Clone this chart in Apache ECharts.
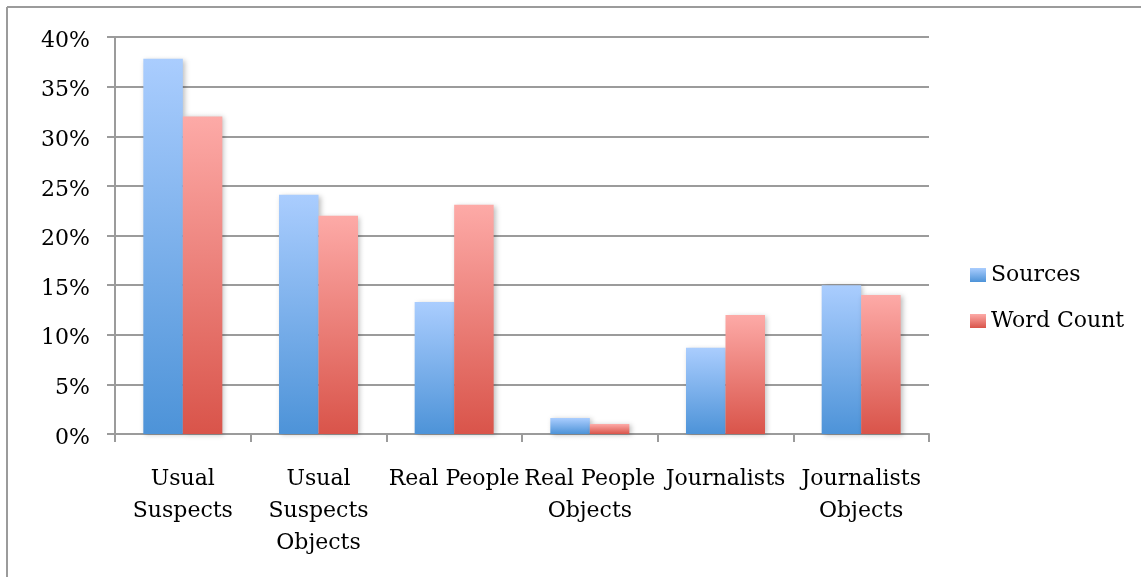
<!DOCTYPE html>
<html>
<head>
<meta charset="utf-8">
<script src="https://cdn.jsdelivr.net/npm/echarts@6/dist/echarts.min.js"></script>
<style>
  html, body { margin: 0; padding: 0; background: #ffffff; }
  #chart { width: 1141px; height: 577px; }
</style>
</head>
<body>
<div id="chart"></div>
<script>
// Share of sources and of word count by group (percent)
const categories = [
  'Usual\nSuspects',
  'Usual\nSuspects\nObjects',
  'Real People',
  'Real People\nObjects',
  'Journalists',
  'Journalists\nObjects'
];
const sources = [37.8, 24.1, 13.3, 1.6, 8.7, 15.0];
const wordCount = [32.0, 22.0, 23.1, 1.0, 12.0, 14.0];
const seriesNames = ['Sources', 'Word Count'];

const FONT = 'DejaVu Serif';
const LINE = '#9b9b9b';

function vGrad(top, bottom) {
  return new echarts.graphic.LinearGradient(0, 0, 0, 1, [
    { offset: 0, color: top },
    { offset: 1, color: bottom }
  ]);
}

const chart = echarts.init(document.getElementById('chart'), null, { renderer: 'canvas' });

chart.setOption({
  animation: false,
  backgroundColor: '#ffffff',
  textStyle: { fontFamily: FONT, color: '#000' },
  grid: { left: 115, right: 212, top: 37, bottom: 143, containLabel: false },
  legend: {
    orient: 'vertical',
    left: 965,
    top: 259,
    itemWidth: 16,
    itemHeight: 14,
    itemGap: 24,
    icon: 'rect',
    textStyle: { fontFamily: FONT, fontSize: 22, color: '#000' },
    data: seriesNames
  },
  xAxis: {
    type: 'category',
    data: categories,
    boundaryGap: true,
    axisLine: { show: true, lineStyle: { color: LINE, width: 2 } },
    axisTick: { show: true, length: 8, alignWithLabel: false, lineStyle: { color: LINE, width: 2 } },
    axisLabel: {
      interval: 0,
      margin: 29,
      fontFamily: FONT,
      fontSize: 22,
      lineHeight: 32,
      color: '#000',
      align: 'center'
    }
  },
  yAxis: {
    type: 'value',
    min: 0,
    max: 40,
    interval: 5,
    axisLine: { show: true, lineStyle: { color: LINE, width: 2 } },
    axisTick: { show: true, length: 8, lineStyle: { color: LINE, width: 2 } },
    splitLine: { show: true, lineStyle: { color: LINE, width: 2 } },
    axisLabel: {
      margin: 25,
      fontFamily: FONT,
      fontSize: 22,
      color: '#000',
      formatter: '{t|{value}%}',
      rich: {
        t: { fontFamily: FONT, fontSize: 22, color: '#000', padding: [8, 0, 0, 0] }
      }
    }
  },
  series: [
    {
      name: seriesNames[0],
      type: 'bar',
      data: sources,
      barWidth: 39.5,
      barGap: '0%',
      itemStyle: {
        color: vGrad('#aacdfe', '#4d93d8'),
        shadowBlur: 5,
        shadowColor: 'rgba(0,0,0,0.25)',
        shadowOffsetX: 2,
        shadowOffsetY: 1
      }
    },
    {
      name: seriesNames[1],
      type: 'bar',
      data: wordCount,
      barWidth: 39.5,
      barGap: '0%',
      itemStyle: {
        color: vGrad('#fdaaa7', '#d9544a'),
        shadowBlur: 5,
        shadowColor: 'rgba(0,0,0,0.25)',
        shadowOffsetX: 2,
        shadowOffsetY: 1
      }
    }
  ],
  graphic: [
    // outer frame (top and left edges)
    { type: 'line', shape: { x1: 7, y1: 7, x2: 1141, y2: 7 }, style: { stroke: LINE, lineWidth: 2 } },
    { type: 'line', shape: { x1: 7, y1: 7, x2: 7, y2: 577 }, style: { stroke: LINE, lineWidth: 2 } }
  ]
});
</script>
</body>
</html>
